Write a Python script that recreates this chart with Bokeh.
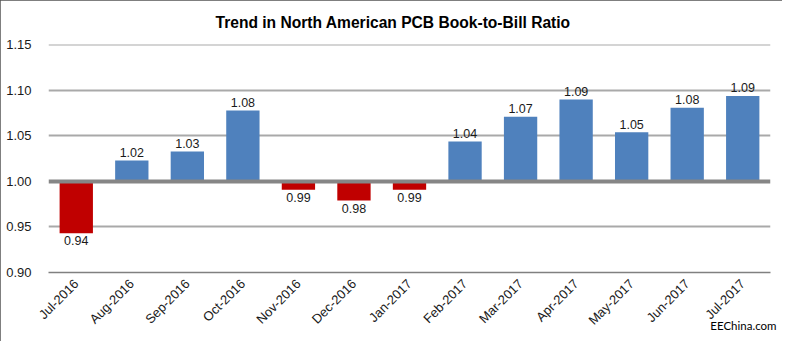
import math
from bokeh.plotting import figure
from bokeh.models import (FactorRange, Range1d, FixedTicker, Span, ColumnDataSource,
                          Title, NumeralTickFormatter)
from bokeh.embed import file_html
from bokeh.resources import INLINE
from bokeh.core.properties import value

# ---- data ----
months = ["Jul-2016", "Aug-2016", "Sep-2016", "Oct-2016", "Nov-2016", "Dec-2016",
          "Jan-2017", "Feb-2017", "Mar-2017", "Apr-2017", "May-2017", "Jun-2017", "Jul-2017"]
ratios = [0.943, 1.023, 1.033, 1.078, 0.991, 0.979, 0.991, 1.044, 1.071, 1.090, 1.054, 1.081, 1.094]
y_ticks = [0.90, 0.95, 1.00, 1.05, 1.10, 1.15]
baseline = 1.00
title_text = "Trend in North American PCB Book-to-Bill Ratio"
source_note = "EEChina.com"

POS = "#4f81bd"
NEG = "#c00000"
FONT = "Liberation Sans"

W, H = 782, 341
FL, FR, FT, FB = 48, 770, 44, 272  # frame edges in canvas px

p = figure(width=W, height=H, x_range=FactorRange(*months, range_padding=0),
           y_range=Range1d(0.90, 1.1505), output_backend="svg", toolbar_location=None,
           min_border_left=FL, min_border_right=W - FR, min_border_top=FT,
           min_border_bottom=H - FB, title=title_text)
p.outline_line_color = None
p.background_fill_color = "white"
p.border_fill_color = "white"
p.styles = {"outline": "1.5px solid #555555", "outline-offset": "-1.5px"}

p.title.align = "left"
p.title.offset = 167
p.title.vertical_align = "top"
p.title.standoff = 23
p.title.text_font = FONT
p.title.text_font_style = "bold"
p.title.text_font_size = "15.6px"
p.title.text_color = "#000000"

colors = [POS if v >= baseline else NEG for v in ratios]
src = ColumnDataSource(dict(x=months, top=ratios, bottom=[baseline] * len(ratios), color=colors))
p.vbar(x="x", top="top", bottom="bottom", width=0.6, fill_color="color", line_color=None, source=src)

# baseline line
p.add_layout(Span(location=baseline, dimension="width", line_color="#868686", line_width=4))

# grid
p.xgrid.grid_line_color = None
p.ygrid.ticker = FixedTicker(ticks=[t for t in y_ticks if t not in (0.90, baseline)])
p.ygrid.grid_line_color = "#a9a9a9"
p.ygrid.grid_line_width = 2

# axes
p.yaxis.ticker = FixedTicker(ticks=y_ticks)
p.yaxis.formatter = NumeralTickFormatter(format="0.00")
p.yaxis.axis_line_color = None
p.yaxis.major_tick_line_color = None
p.yaxis.minor_tick_line_color = None
p.yaxis.major_label_standoff = 11
p.yaxis.major_label_text_font = FONT
p.yaxis.major_label_text_font_size = "13px"
p.yaxis.major_label_text_color = "#1a1a1a"

p.xaxis.axis_line_color = "#808080"
p.xaxis.axis_line_width = 1.5
p.xaxis.major_tick_line_color = None
p.xaxis.minor_tick_line_color = None
p.xaxis.major_label_orientation = math.pi / 4
p.xaxis.major_label_standoff = 3
p.xaxis.major_label_text_font = FONT
p.xaxis.major_label_text_font_size = "13px"
p.xaxis.major_label_text_color = "#1a1a1a"

# data labels
pos_x = [m for m, v in zip(months, ratios) if v >= baseline]
pos_y = [v for v in ratios if v >= baseline]
neg_x = [m for m, v in zip(months, ratios) if v < baseline]
neg_y = [v for v in ratios if v < baseline]
p.text(x=pos_x, y=pos_y, text=[f"{v:.2f}" for v in pos_y], text_align="center",
       text_baseline="bottom", y_offset=-3.5, text_font=value(FONT),
       text_font_size="12.5px", text_color="#1a1a1a")
p.text(x=neg_x, y=neg_y, text=[f"{v:.2f}" for v in neg_y], text_align="center",
       text_baseline="top", y_offset=3, text_font=value(FONT),
       text_font_size="12.5px", text_color="#1a1a1a")

# source note below the axis
note = Title(text=source_note, align="right", offset=-6, vertical_align="top", standoff=-34,
             text_font="Lato", text_font_size="11.5px", text_font_style="normal",
             text_color="#000000")
p.add_layout(note, "below")

open("out.html", "w").write(file_html(p, INLINE))
